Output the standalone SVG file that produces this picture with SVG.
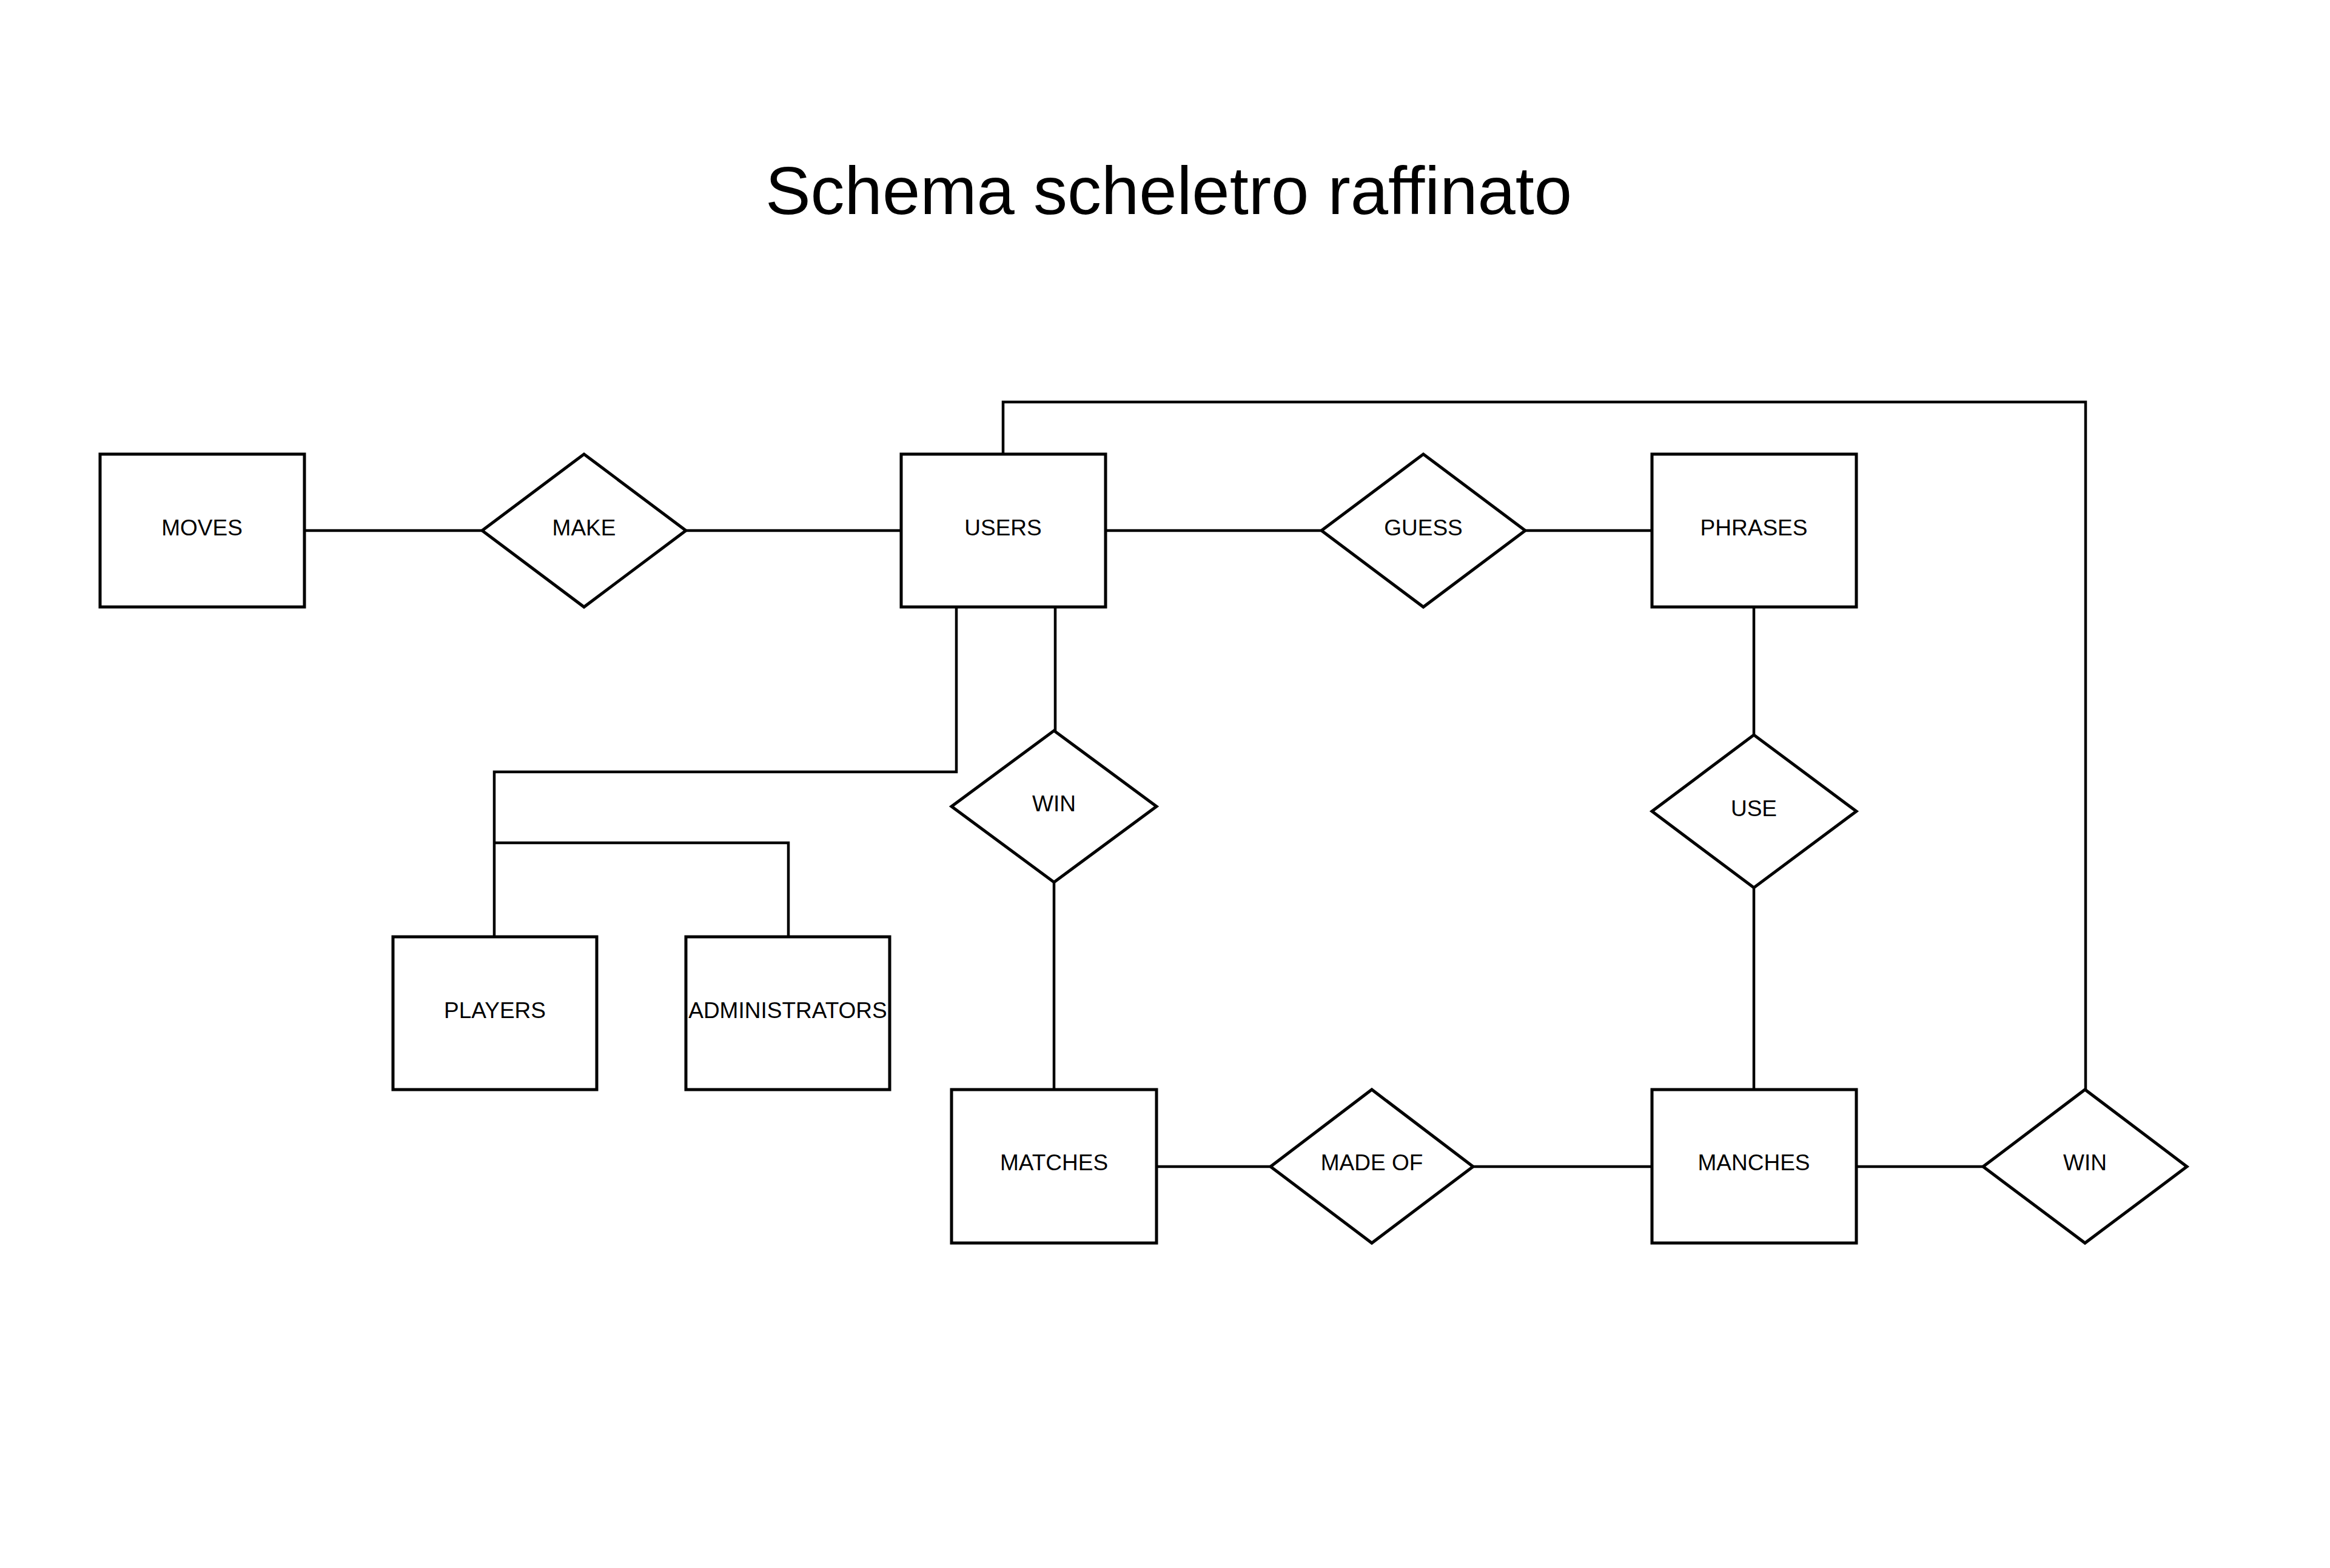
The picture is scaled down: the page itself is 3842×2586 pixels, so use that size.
<svg xmlns="http://www.w3.org/2000/svg" width="3842" height="2586" viewBox="0 0 3842 2586">
<style>
.ent{fill:#fff;stroke:#000;stroke-width:5}
.rel{fill:#fff;stroke:#000;stroke-width:5;stroke-linejoin:miter}
.lbl{font-family:"Liberation Sans",Arial,sans-serif;font-size:37px;fill:#000;text-anchor:middle}
.title{font-family:"Liberation Sans",Arial,sans-serif;font-size:112px;fill:#000;text-anchor:middle}
.con{fill:none;stroke:#000;stroke-width:4.5}
</style>
<rect width="3842" height="2586" fill="#fff"/>
<text class="title" x="1927" y="353">Schema scheletro raffinato</text>
<g id="connectors">
<path class="con" d="M502 875H795"/>
<path class="con" d="M1131 875H1486"/>
<path class="con" d="M1823 875H2179"/>
<path class="con" d="M2515 875H2724"/>
<path class="con" d="M2892 1001V1212"/>
<path class="con" d="M2892 1464V1797"/>
<path class="con" d="M1907 1924H2095"/>
<path class="con" d="M2429 1924H2724"/>
<path class="con" d="M3061 1924H3270"/>
<path class="con" d="M1654 749V663H3439V1797"/>
<path class="con" d="M1740 1001V1205"/>
<path class="con" d="M1738 1455V1797"/>
<path class="con" d="M1577 1001V1273H815V1545"/>
<path class="con" d="M815 1390H1300V1545"/>
</g>
<g id="moves"><rect class="ent" x="165" y="749" width="337" height="252"/><text class="lbl" x="333" y="883">MOVES</text></g>
<g id="make"><polygon class="rel" points="795,875 963,749 1131,875 963,1001"/><text class="lbl" x="963" y="883">MAKE</text></g>
<g id="users"><rect class="ent" x="1486" y="749" width="337" height="252"/><text class="lbl" x="1654" y="883">USERS</text></g>
<g id="guess"><polygon class="rel" points="2179,875 2347,749 2515,875 2347,1001"/><text class="lbl" x="2347" y="883">GUESS</text></g>
<g id="phrases"><rect class="ent" x="2724" y="749" width="337" height="252"/><text class="lbl" x="2892" y="883">PHRASES</text></g>
<g id="win1"><polygon class="rel" points="1569,1330 1738,1205 1907,1330 1738,1455"/><text class="lbl" x="1738" y="1338">WIN</text></g>
<g id="use"><polygon class="rel" points="2724,1338 2892,1212 3061,1338 2892,1464"/><text class="lbl" x="2892" y="1346">USE</text></g>
<g id="players"><rect class="ent" x="648" y="1545" width="336" height="252"/><text class="lbl" x="816" y="1679">PLAYERS</text></g>
<g id="administrators"><rect class="ent" x="1131" y="1545" width="336" height="252"/><text class="lbl" x="1299" y="1679">ADMINISTRATORS</text></g>
<g id="matches"><rect class="ent" x="1569" y="1797" width="338" height="253"/><text class="lbl" x="1738" y="1930">MATCHES</text></g>
<g id="madeof"><polygon class="rel" points="2095,1924 2262,1797 2429,1924 2262,2050"/><text class="lbl" x="2262" y="1930">MADE OF</text></g>
<g id="manches"><rect class="ent" x="2724" y="1797" width="337" height="253"/><text class="lbl" x="2892" y="1930">MANCHES</text></g>
<g id="win2"><polygon class="rel" points="3270,1924 3438,1797 3606,1924 3438,2050"/><text class="lbl" x="3438" y="1930">WIN</text></g>
</svg>
